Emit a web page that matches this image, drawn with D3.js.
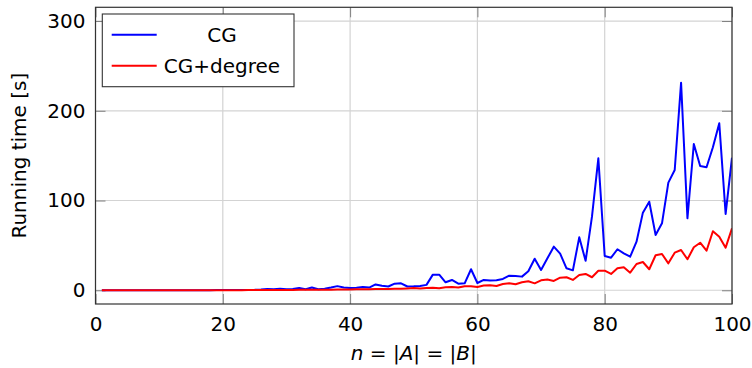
<!DOCTYPE html>
<html>
<head>
<meta charset="utf-8">
<script src="https://cdn.jsdelivr.net/npm/d3@7"></script>
<style>
  html, body { margin: 0; padding: 0; background: #fff; }
  svg { display: block; font-family: "DejaVu Sans", sans-serif; }
</style>
</head>
<body>
<svg id="chart" width="752" height="368"></svg>
<script>
// ---- data ----
const nValues = [1,2,3,4,5,6,7,8,9,10,11,12,13,14,15,16,17,18,19,20,
  21,22,23,24,25,26,27,28,29,30,31,32,33,34,35,36,37,38,39,40,
  41,42,43,44,45,46,47,48,49,50,51,52,53,54,55,56,57,58,59,60,
  61,62,63,64,65,66,67,68,69,70,71,72,73,74,75,76,77,78,79,80,
  81,82,83,84,85,86,87,88,89,90,91,92,93,94,95,96,97,98,99,100];
const cgTimes = [0.01,0.01,0.01,0.01,0.02,0.02,0.03,0.03,0.04,0.05,
  0.06,0.07,0.08,0.09,0.1,0.12,0.14,0.16,0.18,0.2,
  0.25,0.3,0.35,0.4,0.5,0.8,1.5,1.2,1.6,1.0,
  1.4,2.6,1.2,3.0,1.2,1.6,3.0,4.6,3.0,2.6,
  2.8,3.6,3.0,6.5,5.0,4.2,7.4,7.8,4.2,4.4,
  4.8,6.0,17.4,17.4,8.9,11.5,7.4,7.7,23.4,8.1,
  11.5,10.8,11.1,12.6,16.3,15.9,15.2,21.2,35.2,22.6,
  35.6,48.6,40.8,24.5,22.2,59.0,32.8,82.0,147.0,38.2,
  36.3,45.7,41.2,37.4,54.1,86.5,98.7,61.6,74.6,119.9,
  134.0,231.3,80.2,163.0,138.5,137.0,159.3,186.0,85.0,147.7];
const cgDegreeTimes = [0.0,0.0,0.0,0.0,0.0,0.01,0.01,0.01,0.01,0.02,
  0.02,0.03,0.03,0.04,0.05,0.05,0.06,0.07,0.08,0.1,
  0.12,0.14,0.15,0.18,0.2,0.22,0.26,0.28,0.3,0.35,
  0.4,0.45,0.5,0.55,0.6,0.65,0.7,0.8,0.85,0.9,
  1.0,1.2,1.1,1.3,1.5,1.4,1.8,1.6,2.0,2.4,
  2.0,2.6,2.8,2.3,3.4,3.7,3.0,4.4,4.6,3.7,
  5.2,5.6,4.8,7.0,7.7,6.7,8.9,10.0,7.7,11.1,
  11.9,10.4,14.0,14.5,11.5,17.0,18.2,14.5,21.8,21.8,
  18.2,24.5,25.6,19.6,29.3,31.5,23.4,39.0,40.4,30.0,
  41.9,44.9,34.5,47.9,53.0,44.1,65.7,59.7,47.5,69.0];
const xTicks = [0,20,40,60,80,100];
const yTicks = [0,100,200,300];
const seriesNames = ["CG", "CG+degree"];
const seriesColors = ["#0000ff", "#ff0000"];

// ---- layout ----
const svg = d3.select("#chart");
const L = 95.5, R = 732, T = 7.3, B = 304;
const x = d3.scaleLinear().domain([0, 100]).range([L, R]);
const y = d3.scaleLinear().domain([-15.3, 315.3]).range([B, T]);
const fs = 20;

// grid
const grid = svg.append("g");
grid.selectAll("line.gx").data(xTicks).join("line")
  .attr("x1", d => x(d)).attr("x2", d => x(d)).attr("y1", T).attr("y2", B)
  .attr("stroke", "#d3d3d3").attr("stroke-width", 1.2);
grid.selectAll("line.gy").data(yTicks).join("line")
  .attr("y1", d => y(d)).attr("y2", d => y(d)).attr("x1", L).attr("x2", R)
  .attr("stroke", "#d3d3d3").attr("stroke-width", 1.2);

// axes with inward ticks
const tl = 10;
const axB = svg.append("g").attr("transform", `translate(0,${B})`)
  .call(d3.axisBottom(x).tickValues(xTicks).tickSize(-tl).tickPadding(13).tickFormat(d3.format("d")));
const axT = svg.append("g").attr("transform", `translate(0,${T})`)
  .call(d3.axisTop(x).tickValues(xTicks).tickSize(-tl).tickFormat(""));
const axL = svg.append("g").attr("transform", `translate(${L},0)`)
  .call(d3.axisLeft(y).tickValues(yTicks).tickSize(-tl).tickPadding(10).tickFormat(d3.format("d")));
const axR = svg.append("g").attr("transform", `translate(${R},0)`)
  .call(d3.axisRight(y).tickValues(yTicks).tickSize(-tl).tickFormat(""));
[axB, axT, axL, axR].forEach(a => {
  a.select(".domain").remove();
  a.selectAll(".tick line").attr("stroke", "#808080").attr("stroke-width", 1);
  a.selectAll(".tick text").attr("font-size", fs).attr("fill", "#000")
    .attr("font-family", "DejaVu Sans, sans-serif");
});

// lines
const clipId = "plotclip";
svg.append("clipPath").attr("id", clipId).append("rect")
  .attr("x", L).attr("y", T).attr("width", R - L).attr("height", B - T);
const line = d3.line().x(d => x(d[0])).y(d => y(d[1]));
const series = [cgTimes, cgDegreeTimes];
series.forEach((vals, i) => {
  svg.append("path")
    .datum(nValues.map((n, k) => [n, vals[k]]))
    .attr("d", line)
    .attr("fill", "none")
    .attr("stroke", seriesColors[i])
    .attr("stroke-width", 2)
    .attr("stroke-linejoin", "round")
    .attr("clip-path", `url(#${clipId})`);
});

// frame
svg.append("rect").attr("x", L).attr("y", T).attr("width", R - L).attr("height", B - T)
  .attr("fill", "none").attr("stroke", "#333").attr("stroke-width", 1.2);

// legend
const lg = svg.append("g");
lg.append("rect").attr("x", 102.3).attr("y", 14).attr("width", 191.7).attr("height", 72.7)
  .attr("fill", "#fff").attr("stroke", "#333").attr("stroke-width", 1.1);
seriesNames.forEach((name, i) => {
  const cy = 34.7 + i * 31;
  lg.append("line").attr("x1", 111.7).attr("x2", 156.7).attr("y1", cy).attr("y2", cy)
    .attr("stroke", seriesColors[i]).attr("stroke-width", 2);
  lg.append("text").attr("x", 222).attr("y", cy + 7.3).attr("text-anchor", "middle")
    .attr("font-size", fs).attr("fill", "#000").text(name);
});

// axis labels
const xl = svg.append("text").attr("x", (L + R) / 2).attr("y", 360).attr("text-anchor", "middle")
  .attr("font-size", fs).attr("fill", "#000");
xl.append("tspan").attr("font-style", "italic").text("n");
xl.append("tspan").text(" = |");
xl.append("tspan").attr("font-style", "italic").text("A");
xl.append("tspan").text("| = |");
xl.append("tspan").attr("font-style", "italic").text("B");
xl.append("tspan").text("|");

svg.append("text").attr("transform", `translate(26,${(T + B) / 2}) rotate(-90)`)
  .attr("text-anchor", "middle").attr("font-size", fs).attr("fill", "#000")
  .text("Running time [s]");
</script>
</body>
</html>
